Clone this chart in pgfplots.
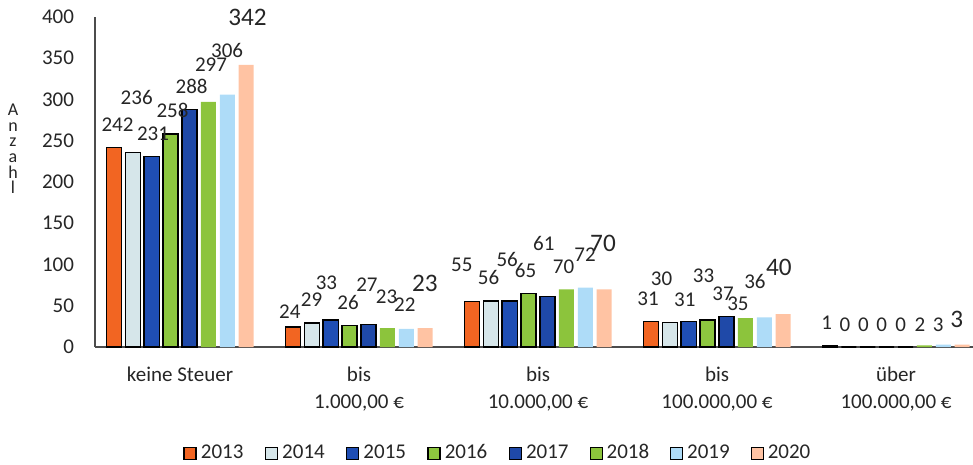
\documentclass[border=0pt]{standalone}
\usepackage{pgfplots}
\pgfplotsset{compat=1.18}
\usepackage{fontspec}
\setmainfont{Carlito}
\definecolor{c13}{HTML}{F26522}
\definecolor{c14}{HTML}{D6E6EA}
\definecolor{c15}{HTML}{1F4EB4}
\definecolor{c16}{HTML}{8DC63F}
\definecolor{c17}{HTML}{1F49A8}
\definecolor{c18}{HTML}{8CC43C}
\definecolor{c19}{HTML}{AEDCF8}
\definecolor{c20}{HTML}{FFC3A3}
\definecolor{txt}{HTML}{262626}
\pgfplotsset{mybar/.style={ybar, bar width=0.084,
  legend image code/.code={\draw[##1] (0pt,-3pt) rectangle (6pt,3pt);}}}
\begin{document}
\begin{tikzpicture}
\useasboundingbox (-47.5pt,-59pt) rectangle (439pt,173.5pt);
\begin{axis}[
  at={(0,0)}, anchor=south west,
  scale only axis, width=439pt, height=165pt,
  xmin=-0.475, xmax=4.43, ymin=0, ymax=400,
  axis x line=bottom, axis y line=left,
  axis line style={-, draw=black!70, line width=0.8pt},
  xtick={0,1,2,3,4},
  xticklabels={{keine Steuer},{bis\\1.000,00 €},{bis\\10.000,00 €},{bis\\100.000,00 €},{über\\100.000,00 €}},
  ytick={0,50,...,400},
  major tick length=0pt,
  tick label style={font=\fontsize{10.5}{13.5}\selectfont, text=txt},
  xticklabel style={align=center, yshift=-6.5pt},
  yticklabel style={xshift=-7pt},
  /pgf/number format/assume math mode=true,
  clip=false,
  legend columns=8,
  legend style={at={(rel axis cs:0.460,-0.322)}, anchor=center, draw=none, fill=none,
    font=\fontsize{10.5}{12}\selectfont, text=txt,
    /tikz/every even column/.append style={column sep=8.6pt}},
]
\addplot[mybar, bar shift=-0.369, fill=c13, draw=black, line width=0.75pt] coordinates {(0,242)(1,24)(2,55)(3,31)(4,1)};
\addlegendentry{2013}
\addplot[mybar, bar shift=-0.264, fill=c14, draw=black, line width=0.75pt] coordinates {(0,236)(1,29)(2,56)(3,30)(4,0)};
\addlegendentry{2014}
\addplot[mybar, bar shift=-0.158, fill=c15, draw=black, line width=0.75pt] coordinates {(0,231)(1,33)(2,56)(3,31)(4,0)};
\addlegendentry{2015}
\addplot[mybar, bar shift=-0.053, fill=c16, draw=black, line width=0.75pt] coordinates {(0,258)(1,26)(2,65)(3,33)(4,0)};
\addlegendentry{2016}
\addplot[mybar, bar shift=0.053, fill=c17, draw=black, line width=0.75pt] coordinates {(0,288)(1,27)(2,61)(3,37)(4,0)};
\addlegendentry{2017}
\addplot[mybar, bar shift=0.158, fill=c18, draw=none] coordinates {(0,297)(1,23)(2,70)(3,35)(4,2)};
\addlegendentry{2018}
\addplot[mybar, bar shift=0.264, fill=c19, draw=none] coordinates {(0,306)(1,22)(2,72)(3,36)(4,3)};
\addlegendentry{2019}
\addplot[mybar, bar shift=0.369, fill=c20, draw=none] coordinates {(0,342)(1,23)(2,70)(3,40)(4,3)};
\addlegendentry{2020}
% data labels (positions as in the reference)
\addplot[draw=none, mark=none, forget plot, nodes near coords, point meta=explicit symbolic,
  every node near coord/.append style={anchor=center, inner sep=0pt, font=\fontsize{10.5}{12}\selectfont, text=txt}]
  table[meta=t] {
x y t
-0.349 269 242
-0.242 303 236
-0.151 259 231
-0.042 287 258
0.065 316 288
0.173 342 297
0.263 360 306
0.613 42.8 24
0.735 57.8 29
0.818 78 33
0.939 53.7 26
1.044 75 27
1.154 61 23
1.256 51 22
1.574 99.4 55
1.724 84.4 56
1.828 106 56
1.930 93 65
2.032 125 61
2.143 97 70
2.263 111.5 72
2.615 59 31
2.690 83 30
2.820 57.8 31
2.925 86 33
3.034 65 37
3.117 53 35
3.212 79 36
3.613 29 1
3.715 27 0
3.818 27 0
3.920 27 0
4.026 27 0
4.134 27 2
4.236 27 3
};
\addplot[draw=none, mark=none, forget plot, nodes near coords, point meta=explicit symbolic,
  every node near coord/.append style={anchor=center, inner sep=0pt, font=\fontsize{12.6}{14}\selectfont, text=txt}]
  table[meta=t] {
x y t
0.377 399 342
1.368 77 23
2.363 125 70
3.346 97 40
4.339 34 3
};
\end{axis}
\node[align=center, font=\fontsize{9}{7.8}\selectfont, text=txt] at (-41pt,99pt) {A\\n\\z\\a\\h\\l};
\end{tikzpicture}
\end{document}
